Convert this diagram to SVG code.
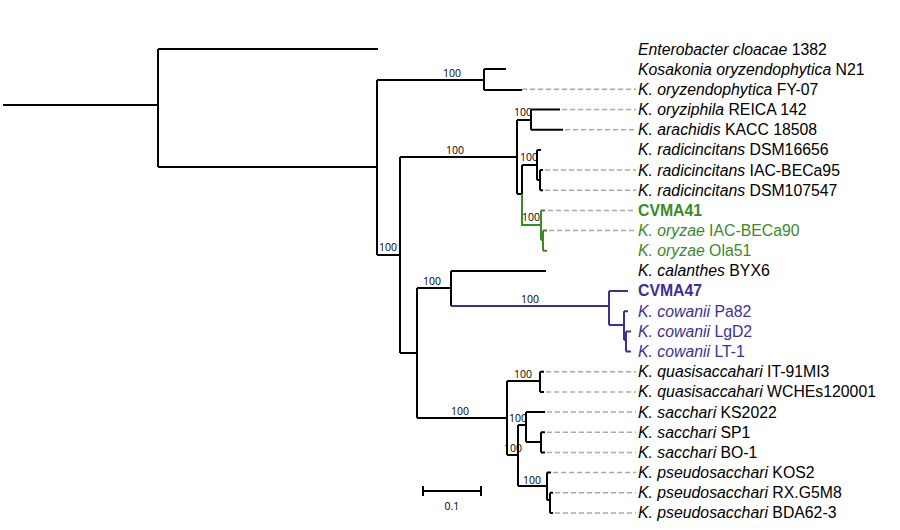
<svg xmlns="http://www.w3.org/2000/svg" width="900" height="530" viewBox="0 0 900 530">
<style>
.b{stroke:#000;stroke-width:2;fill:none}
.g{stroke:#3a8a28;stroke-width:2;fill:none}
.p{stroke:#3d2f96;stroke-width:2;fill:none}
.d{stroke:#aaa;stroke-width:1.5;stroke-dasharray:5,3;fill:none}
.bs{font-family:"Open Sans","Liberation Sans",Arial,sans-serif;font-size:10.5px;fill:#000}
.t{font-family:"Liberation Sans",Arial,sans-serif;font-size:15.8px;fill:#000}
.i{font-style:italic}
.gt{fill:#3a8a28}.pt{fill:#3d2f96}
.bold{font-weight:bold}
</style>
<rect width="900" height="530" fill="#fff"/>
<g id="connectors">
<path class="b" d="M3,105H158M158,49V167M158,49H378M158,167H377M377,80V255M377,80H484M484,69V90M484,69H506M484,90H522M377,255H400M400,157V353M400,157H517M517,120V194M517,120H531M531,109.5V129.7M531,109.5H560M531,129.7H563M517,194H522M522,165V194M522,165H537M537,149.9V180M537,149.9H541M537,180H540M540,170V190.2M540,170H543M540,190.2H543"/>
<path class="g" d="M522,194V225H541M541,210.4V240M541,210.4H545M541,240H543M543,230.5V250.7M543,230.5H547M543,250.7H547"/>
<path class="b" d="M400,353H417M417,288V418M417,288H451M451,270.9V306M451,270.9H546M417,418H507M507,381V455M507,381H540M540,371.7V391.9M540,371.7H544M540,391.9H544M507,455H518M518,425V486M518,425H526M526,412.1V442M526,412.1H545M526,442H541M541,432.2V452.4M541,432.2H545M541,452.4H545M518,486H547M547,472.6V500M547,472.6H551M547,500H550M550,492.7V512.9M550,492.7H553M550,512.9H553"/>
<path class="p" d="M451,306H609M609,291V325M609,291H628M609,325H624M624,311.2V340M624,311.2H628M624,340H626M626,331.4V351.6M626,331.4H631M626,351.6H631"/>
<path class="d" d="M522,89.3H636M562,109.5H636M565,129.7H636M545,170H636M545,190.2H636M548,210.4H636M549,230.5H636M546,371.7H636M546,391.9H636M547,412.1H636M547,432.2H636M547,452.4H636M553,472.6H636M555,492.7H636M555,512.9H636"/>
<path class="b" stroke-width="1.5" d="M423,491H481M423,486V496M481,486V496"/>
</g>
<g id="bootstrap">
<text class="bs" x="452" y="77" text-anchor="middle">100</text>
<text class="bs" x="455" y="154" text-anchor="middle">100</text>
<text class="bs" x="379" y="251" text-anchor="start">100</text>
<text class="bs" x="523" y="116" text-anchor="middle">100</text>
<text class="bs" x="529" y="161" text-anchor="middle">100</text>
<text class="bs" x="531" y="221" text-anchor="middle">100</text>
<text class="bs" x="432" y="285" text-anchor="middle">100</text>
<text class="bs" x="530" y="303" text-anchor="middle">100</text>
<text class="bs" x="523" y="378" text-anchor="middle">100</text>
<text class="bs" x="460" y="415" text-anchor="middle">100</text>
<text class="bs" x="518" y="422" text-anchor="middle">100</text>
<text class="bs" x="513" y="452" text-anchor="middle">100</text>
<text class="bs" x="532" y="484" text-anchor="middle">100</text>
<text class="bs" x="452" y="510" text-anchor="middle">0.1</text>
</g>
<g id="labels">
<text class="t i" x="638" y="55">Enterobacter cloacae <tspan font-style="normal">1382</tspan></text>
<text class="t i" x="638" y="75">Kosakonia oryzendophytica <tspan font-style="normal">N21</tspan></text>
<text class="t" x="638" y="95"><tspan class="i">K. oryzendophytica</tspan> FY-07</text>
<text class="t" x="638" y="115"><tspan class="i">K. oryziphila</tspan> REICA 142</text>
<text class="t" x="638" y="135"><tspan class="i">K. arachidis</tspan> KACC 18508</text>
<text class="t" x="638" y="155"><tspan class="i">K. radicincitans</tspan> DSM16656</text>
<text class="t" x="638" y="176"><tspan class="i">K. radicincitans</tspan> IAC-BECa95</text>
<text class="t" x="638" y="196"><tspan class="i">K. radicincitans</tspan> DSM107547</text>
<text class="t gt bold" x="638" y="216">CVMA41</text>
<text class="t gt" x="638" y="236"><tspan class="i">K. oryzae</tspan> IAC-BECa90</text>
<text class="t gt" x="638" y="256"><tspan class="i">K. oryzae</tspan> Ola51</text>
<text class="t" x="638" y="276"><tspan class="i">K. calanthes</tspan> BYX6</text>
<text class="t pt bold" x="638" y="296">CVMA47</text>
<text class="t pt" x="638" y="317"><tspan class="i">K. cowanii</tspan> Pa82</text>
<text class="t pt" x="638" y="337"><tspan class="i">K. cowanii</tspan> LgD2</text>
<text class="t pt" x="638" y="357"><tspan class="i">K. cowanii</tspan> LT-1</text>
<text class="t" x="638" y="377"><tspan class="i">K. quasisaccahari</tspan> IT-91MI3</text>
<text class="t" x="638" y="397"><tspan class="i">K. quasisaccahari</tspan> WCHEs120001</text>
<text class="t" x="638" y="418"><tspan class="i">K. sacchari</tspan> KS2022</text>
<text class="t" x="638" y="438"><tspan class="i">K. sacchari</tspan> SP1</text>
<text class="t" x="638" y="458"><tspan class="i">K. sacchari</tspan> BO-1</text>
<text class="t" x="638" y="478"><tspan class="i">K. pseudosacchari</tspan> KOS2</text>
<text class="t" x="638" y="498"><tspan class="i">K. pseudosacchari</tspan> RX.G5M8</text>
<text class="t" x="638" y="518"><tspan class="i">K. pseudosacchari</tspan> BDA62-3</text>
</g>
</svg>
